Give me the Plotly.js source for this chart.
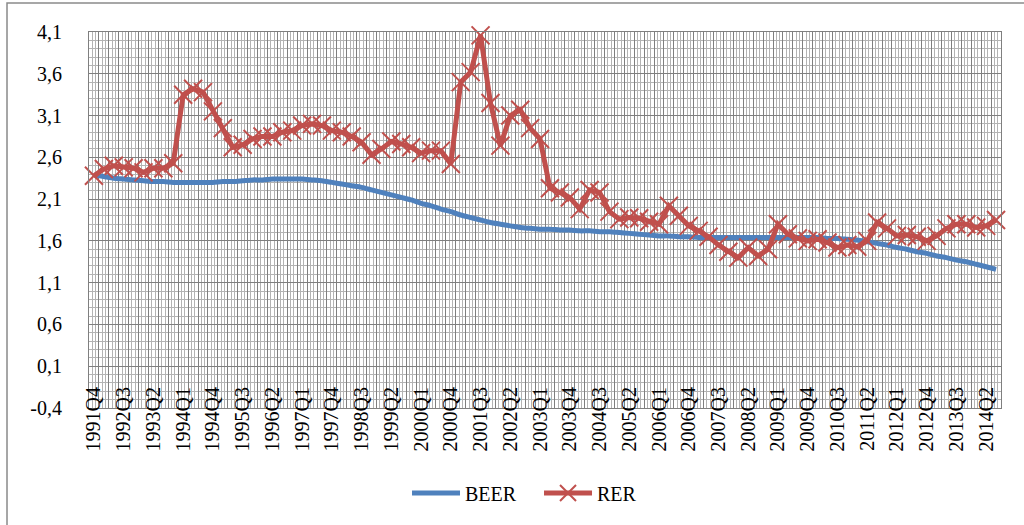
<!DOCTYPE html>
<html>
<head>
<meta charset="utf-8">
<script src="https://cdn.plot.ly/plotly-3.0.1.min.js"></script>
<style>html,body{margin:0;padding:0;background:#fff;}#chart{width:1024px;height:525px;}</style>
</head>
<body>
<div id="chart"></div>
<script>
// Quarterly categories, 1991Q4 .. 2014Q4 (axis shows 1991Q4 .. 2014Q3)
var quarters = [
 '1991Q4',
 '1992Q1','1992Q2','1992Q3','1992Q4',
 '1993Q1','1993Q2','1993Q3','1993Q4',
 '1994Q1','1994Q2','1994Q3','1994Q4',
 '1995Q1','1995Q2','1995Q3','1995Q4',
 '1996Q1','1996Q2','1996Q3','1996Q4',
 '1997Q1','1997Q2','1997Q3','1997Q4',
 '1998Q1','1998Q2','1998Q3','1998Q4',
 '1999Q1','1999Q2','1999Q3','1999Q4',
 '2000Q1','2000Q2','2000Q3','2000Q4',
 '2001Q1','2001Q2','2001Q3','2001Q4',
 '2002Q1','2002Q2','2002Q3','2002Q4',
 '2003Q1','2003Q2','2003Q3','2003Q4',
 '2004Q1','2004Q2','2004Q3','2004Q4',
 '2005Q1','2005Q2','2005Q3','2005Q4',
 '2006Q1','2006Q2','2006Q3','2006Q4',
 '2007Q1','2007Q2','2007Q3','2007Q4',
 '2008Q1','2008Q2','2008Q3','2008Q4',
 '2009Q1','2009Q2','2009Q3','2009Q4',
 '2010Q1','2010Q2','2010Q3','2010Q4',
 '2011Q1','2011Q2','2011Q3','2011Q4',
 '2012Q1','2012Q2','2012Q3','2012Q4',
 '2013Q1','2013Q2','2013Q3','2013Q4',
 '2014Q1','2014Q2','2014Q3','2014Q4'
];
var axisCount = 92; // categories shown on the axis

var beer = [
 2.39,
 2.37,2.35,2.34,2.33,
 2.32,2.31,2.31,2.30,
 2.30,2.30,2.30,2.30,
 2.31,2.31,2.32,2.33,
 2.33,2.34,2.34,2.34,
 2.34,2.33,2.32,2.30,
 2.28,2.26,2.24,2.21,
 2.18,2.15,2.12,2.09,
 2.05,2.02,1.98,1.95,
 1.91,1.88,1.85,1.82,
 1.80,1.78,1.76,1.75,
 1.74,1.74,1.73,1.73,
 1.72,1.72,1.71,1.71,
 1.70,1.69,1.68,1.67,
 1.66,1.66,1.65,1.65,
 1.64,1.64,1.64,1.64,
 1.64,1.64,1.64,1.64,
 1.64,1.64,1.64,1.64,
 1.64,1.63,1.63,1.62,
 1.61,1.59,1.57,1.55,
 1.52,1.50,1.47,1.45,
 1.42,1.40,1.37,1.35,
 1.32,1.29,1.26
];

var rer = [
 2.38,
 2.46,2.50,2.48,2.47,
 2.42,2.47,2.47,2.53,
 3.35,3.42,3.38,3.15,
 2.95,2.72,2.75,2.82,
 2.85,2.85,2.90,2.92,
 2.98,3.00,2.98,2.92,
 2.90,2.85,2.78,2.63,
 2.70,2.79,2.76,2.72,
 2.65,2.68,2.68,2.52,
 3.50,3.62,4.06,3.25,
 2.74,3.10,3.17,2.95,
 2.82,2.23,2.18,2.12,
 1.98,2.21,2.18,1.95,
 1.86,1.88,1.87,1.83,
 1.80,2.02,1.90,1.78,
 1.72,1.65,1.55,1.47,
 1.40,1.52,1.42,1.50,
 1.80,1.68,1.63,1.60,
 1.62,1.58,1.52,1.55,
 1.53,1.60,1.82,1.75,
 1.66,1.67,1.65,1.60,
 1.66,1.75,1.80,1.80,
 1.76,1.78,1.85
];

var xLabelIdx = [0,3,6,9,12,15,18,21,24,27,30,33,36,39,42,45,48,51,54,57,60,63,66,69,72,75,78,81,84,87,90];
var yTickVals = [-0.4,0.1,0.6,1.1,1.6,2.1,2.6,3.1,3.6,4.1];
var yTickText = ['-0,4','0,1','0,6','1,1','1,6','2,1','2,6','3,1','3,6','4,1'];

var beerIdx = beer.map(function(v,i){return i;});
var rerIdx = rer.map(function(v,i){return i;});
var serif = 'Liberation Serif';

var traces = [
 {x: beerIdx, y: beer, name: 'BEER', type: 'scatter', mode: 'lines', xaxis: 'x', yaxis: 'y',
  line: {color: '#4F81BD', width: 5, shape: 'spline', smoothing: 0.6}},
 {x: rerIdx, y: rer, name: 'RER', type: 'scatter', mode: 'lines+markers', xaxis: 'x2', yaxis: 'y',
  cliponaxis: false,
  line: {color: '#C0504D', width: 5},
  marker: {symbol: 'x-thin', size: 18, color: '#C0504D', line: {color: '#C0504D', width: 2}}}
];

var layout = {
 width: 1024, height: 525,
 margin: {l: 89, r: 23, t: 32, b: 117},
 paper_bgcolor: '#ffffff', plot_bgcolor: '#ffffff',
 separators: ',.',
 font: {family: serif, size: 20, color: '#000'},
 showlegend: true,
 legend: {orientation: 'h', x: 0.3487, xanchor: 'left', y: -0.226, yanchor: 'middle',
          font: {family: serif, size: 20, color: '#000'}, itemwidth: 48,
          entrywidth: 69, entrywidthmode: 'pixels'},
 xaxis: {
  range: [-0.5, axisCount - 0.5], tickmode: 'linear', tick0: -0.5, dtick: 1,
  showticklabels: false, ticks: '', zeroline: false,
  showgrid: true, gridcolor: '#7f7f7f', gridwidth: 1,
  minor: {tick0: -0.5, dtick: 1/3, showgrid: true, gridcolor: '#b3b3b3', gridwidth: 1, ticks: ''},
  showline: true, linecolor: '#7f7f7f', linewidth: 1, mirror: true
 },
 xaxis2: {
  overlaying: 'x', anchor: 'y', side: 'bottom', range: [-0.5, axisCount - 0.5],
  tickmode: 'array', tickvals: xLabelIdx, ticktext: xLabelIdx.map(function(i){return quarters[i];}),
  tickangle: -90, ticks: '', showgrid: false, zeroline: false,
  tickfont: {family: serif, size: 20, color: '#000'},
  ticklabelstandoff: -26
 },
 yaxis: {
  range: [-0.4, 4.1], tickmode: 'array', tickvals: yTickVals, ticktext: yTickText,
  ticks: '', ticklabelstandoff: 22, showgrid: true, gridcolor: '#7f7f7f', gridwidth: 1,
  zeroline: false,
  minor: {tick0: -0.4, dtick: 0.1, showgrid: true, gridcolor: '#b3b3b3', gridwidth: 1, ticks: ''},
  tickfont: {family: serif, size: 20, color: '#000'},
  showline: true, linecolor: '#7f7f7f', linewidth: 1, mirror: true
 },
 shapes: [
  {type: 'rect', xref: 'paper', yref: 'paper', x0: -0.0899, x1: 1.1, y0: 1.0771, y1: -0.4,
   line: {color: '#8a8a8a', width: 1.5}, fillcolor: 'rgba(0,0,0,0)', layer: 'below'}
 ]
};

Plotly.newPlot('chart', traces, layout, {displayModeBar: false, staticPlot: true});
</script>
</body>
</html>
